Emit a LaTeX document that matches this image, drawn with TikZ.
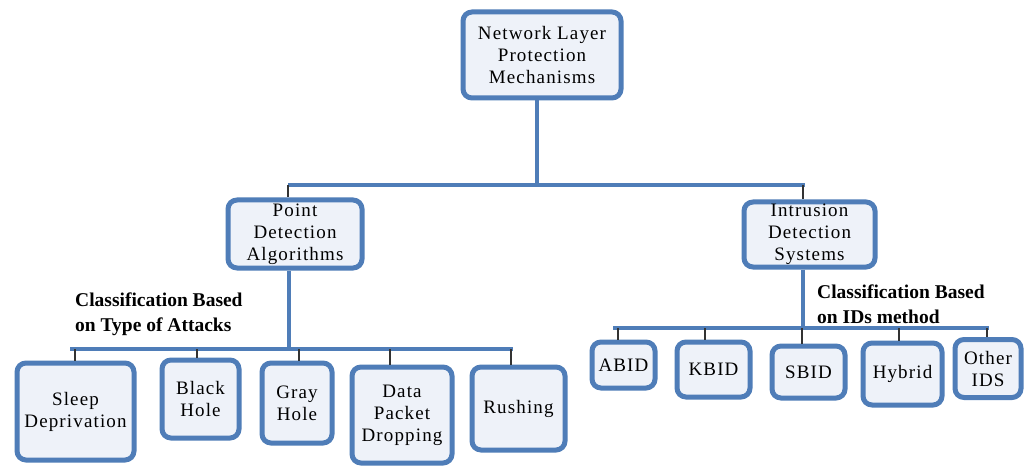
\documentclass[tikz,border=0pt]{standalone}
\usepackage{fontspec}
\setmainfont{Liberation Serif}
\newfontfamily\boxfam[LetterSpace=6]{Liberation Serif}
\newcommand\boxfont{\boxfam\fontsize{19}{22}\selectfont}
\newcommand\labfont{\bfseries\fontsize{19.5}{25}\selectfont}
\definecolor{bord}{RGB}{79,125,184}
\definecolor{fillc}{RGB}{238,242,249}
\tikzset{
  box/.style={draw=bord, line width=5pt, rounded corners=9pt, fill=fillc, align=center, inner sep=0pt, font=\boxfont},
  bus/.style={draw=bord, line width=4pt},
  tickline/.style={draw=black!80, line width=1.3pt},
  lab/.style={font=\labfont, align=left, anchor=west, inner sep=0pt}
}
\begin{document}
\begin{tikzpicture}[x=1pt,y=-1pt]
\useasboundingbox[fill=white] (0,0) rectangle (1024,470);
% boxes
\node[box, minimum width=158, minimum height=86] (root) at (542,55) {Network Layer\\Protection\\Mechanisms};
\node[box, minimum width=134, minimum height=68] (pda) at (295,234) {Point\\Detection\\Algorithms};
\node[box, minimum width=131, minimum height=65] (ids) at (809.5,234.5) {Intrusion\\Detection\\Systems};
\node[box, minimum width=117, minimum height=97] (sleep) at (75.5,411.5) {Sleep\\Deprivation};
\node[box, minimum width=77, minimum height=78] (black) at (200.5,399) {Black\\Hole};
\node[box, minimum width=70, minimum height=80] (gray) at (297,403) {Gray\\Hole};
\node[box, minimum width=100, minimum height=96] (data) at (402,415) {Data\\Packet\\Dropping};
\node[box, minimum width=93, minimum height=83] (rush) at (518.5,408.5) {Rushing};
\node[box, minimum width=63, minimum height=46] (abid) at (623.5,365) {ABID};
\node[box, minimum width=73, minimum height=55] (kbid) at (713.5,369.5) {KBID};
\node[box, minimum width=73, minimum height=52] (sbid) at (808.5,372) {SBID};
\node[box, minimum width=79, minimum height=62] (hybrid) at (902.5,374) {Hybrid};
\node[box, minimum width=66, minimum height=58] (other) at (988,368.5) {Other\\IDS};
% labels
\node[lab] (labL) at (75,314) {Classification Based\\on Type of Attacks};
\node[lab] (labR) at (817,304) {Classification Based\\on IDs method};
% top level
\coordinate (t0) at (537,185);
\coordinate (tl) at (288,185);
\coordinate (tr) at (805,185);
\coordinate (tri) at (803,185);
\draw[bus] (t0 |- root.south) -- (t0);
\draw[bus] (tl) -- (tr);
\draw[tickline] (tl) -- (tl |- pda.north);
\draw[tickline] (tri) -- (tri |- ids.north);
% left group
\coordinate (lv) at (289,349);
\coordinate (lbl) at (70,349);
\coordinate (lbr) at (513,349);
\draw[bus] (lv |- pda.south) -- (lv);
\draw[bus] (lbl) -- (lbr);
\coordinate (k1) at (75,349);
\coordinate (k2) at (197,349);
\coordinate (k3) at (299,349);
\coordinate (k4) at (390,349);
\coordinate (k5) at (511,349);
\draw[tickline] (k1) -- (k1 |- sleep.north);
\draw[tickline] (k2) -- (k2 |- black.north);
\draw[tickline] (k3) -- (k3 |- gray.north);
\draw[tickline] (k4) -- (k4 |- data.north);
\draw[tickline] (k5) -- (k5 |- rush.north);
% right group
\coordinate (rv) at (803,328);
\coordinate (rbl) at (613,328);
\coordinate (rbr) at (989,328);
\draw[bus] (rv |- ids.south) -- (rv);
\draw[bus] (rbl) -- (rbr);
\coordinate (m1) at (618,328);
\coordinate (m2) at (705,328);
\coordinate (m3) at (802,328);
\coordinate (m4) at (899,328);
\coordinate (m5) at (987,328);
\draw[tickline] (m1) -- (m1 |- abid.north);
\draw[tickline] (m2) -- (m2 |- kbid.north);
\draw[tickline] (m3) -- (m3 |- sbid.north);
\draw[tickline] (m4) -- (m4 |- hybrid.north);
\draw[tickline] (m5) -- (m5 |- other.north);
\end{tikzpicture}
\end{document}
